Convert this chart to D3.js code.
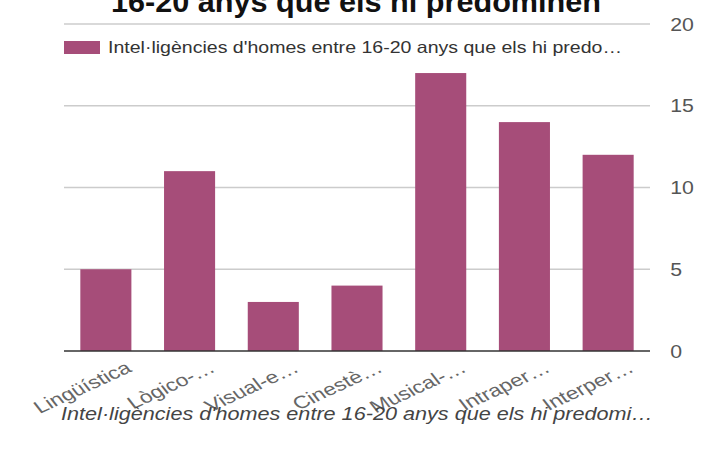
<!DOCTYPE html>
<html><head><meta charset="utf-8">
<script src="https://cdn.jsdelivr.net/npm/d3@7"></script>
<style>
html,body{margin:0;padding:0;background:#fff;}
text{font-family:"Liberation Sans",Arial,sans-serif;}
</style></head>
<body>
<svg id="c" width="714" height="449"></svg>
<script>
const categories = ["Lingüística","Lògico-…","Visual-e…","Cinestè…","Musical-…","Intraper…","Interper…"];
const values = [5, 11, 3, 4, 17, 14, 12];
const yTicks = [0, 5, 10, 15, 20];
const titleText = "16-20 anys que els hi predominen";
const seriesName = "Intel·ligències d'homes entre 16-20 anys que els hi predo…";
const axisTitle = "Intel·ligències d'homes entre 16-20 anys que els hi predomi…";

const svg = d3.select("#c");
const W = 714, H = 449;
const m = {left: 64, right: 64, top: 24, bottom: 98};
const x = d3.scaleBand().domain(categories).range([m.left, W - m.right]).paddingInner(0.39).paddingOuter(0.195);
const y = d3.scaleLinear().domain([0, 20]).range([H - m.bottom, m.top]);

// title (first line clipped above)
svg.append("text").attr("x", 356).attr("y", 12).attr("text-anchor", "middle")
  .attr("font-size", 30).attr("font-weight", "bold").attr("fill", "#111")
  .attr("textLength", 490).attr("lengthAdjust", "spacingAndGlyphs")
  .text(titleText);

// gridlines
svg.append("g").selectAll("line").data(yTicks.filter(d => d > 0)).join("line")
  .attr("x1", m.left).attr("x2", W - m.right)
  .attr("y1", d => y(d)).attr("y2", d => y(d))
  .attr("stroke", "#cccccc").attr("stroke-width", 1.3);

// bars
svg.append("g").selectAll("rect").data(values).join("rect")
  .attr("x", (d, i) => x(categories[i]))
  .attr("width", x.bandwidth())
  .attr("y", d => y(d))
  .attr("height", d => y(0) - y(d))
  .attr("fill", "#a64d79");

// baseline
svg.append("line").attr("x1", m.left).attr("x2", W - m.right)
  .attr("y1", y(0)).attr("y2", y(0)).attr("stroke", "#333").attr("stroke-width", 1.5);

// y axis on right
const yAxis = d3.axisRight(y).tickValues(yTicks).tickSize(0).tickPadding(18);
const ga = svg.append("g").attr("transform", `translate(${W - m.right},0)`).call(yAxis);
ga.select(".domain").remove();
ga.selectAll("text").attr("font-size", 19).attr("fill", "#555")
  .attr("font-family", "Liberation Sans, Arial, sans-serif")
  .attr("transform", "scale(1.12,1)");

// x axis labels slanted (rotated, then stretched horizontally like the reference)
const xAxis = d3.axisBottom(x).tickSize(0).tickPadding(0);
const gx = svg.append("g").attr("transform", `translate(0,${y(0)})`).call(xAxis);
gx.select(".domain").remove();
gx.selectAll("text").attr("font-size", 17.5).attr("fill", "#666")
  .attr("font-family", "Liberation Sans, Arial, sans-serif")
  .attr("text-anchor", "end").attr("dy", 0).attr("y", 0)
  .attr("transform", "translate(27,20) scale(1.3,1) rotate(-31)");

// legend
const lg = svg.append("g");
lg.append("rect").attr("x", 64).attr("y", 41).attr("width", 36).attr("height", 13).attr("fill", "#a64d79");
lg.append("text").attr("x", 108).attr("y", 53).attr("font-size", 16.5).attr("fill", "#333")
  .attr("textLength", 514).attr("lengthAdjust", "spacingAndGlyphs")
  .text(seriesName);

// axis title
svg.append("text").attr("x", 357).attr("y", 420).attr("text-anchor", "middle")
  .attr("font-size", 18).attr("font-style", "italic").attr("fill", "#444")
  .attr("textLength", 592).attr("lengthAdjust", "spacingAndGlyphs")
  .text(axisTitle);
</script>
</body></html>
